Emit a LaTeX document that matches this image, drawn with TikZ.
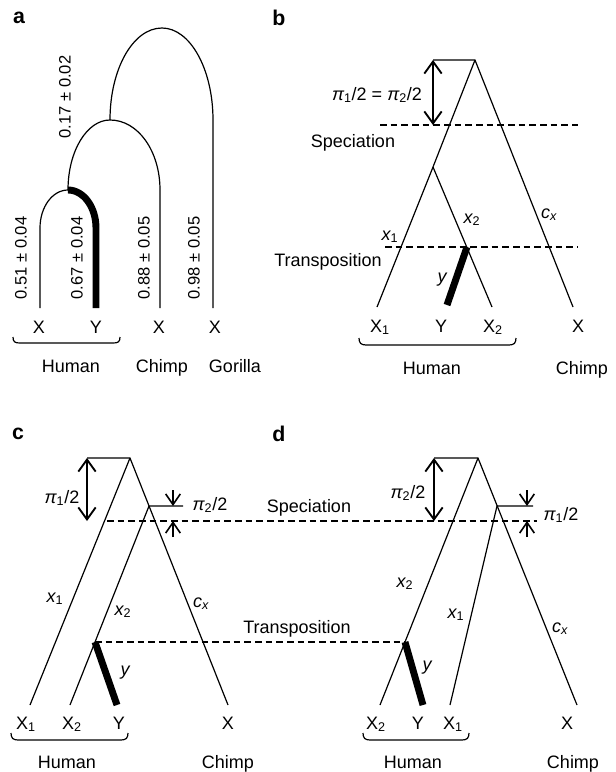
\documentclass[tikz,border=0pt]{standalone}
\usepackage{fontspec}
\setmainfont{Liberation Sans}
\usetikzlibrary{arrows.meta}
\begin{document}
\begin{tikzpicture}[x=0.75pt,y=-0.75pt,
  tree/.style={line width=0.9pt},
  thickbranch/.style={line width=5.2pt},
  dline/.style={line width=0.9pt, dash pattern=on 5pt off 3pt},
  lab/.style={font=\fontsize{13.5}{15}\selectfont, inner sep=0pt, anchor=base},
  num/.style={font=\fontsize{12.4}{14}\selectfont, inner sep=0pt, rotate=90},
  panel/.style={font=\fontsize{16}{18}\selectfont\bfseries, inner sep=0pt},
  dbl/.style={line width=1.4pt, {Straight Barb[length=9pt,width=13pt]}-{Straight Barb[length=9pt,width=13pt]}},
  sarr/.style={line width=1.2pt, -{Straight Barb[length=8pt,width=11pt]}},
  brace/.style={line width=0.9pt}
]
\useasboundingbox (0,0) rectangle (616,772);

% ---------------- panel a ----------------
\node[panel] (la) at (19,18) {a};
\coordinate (aR) at (162,28);
\coordinate (aHC) at (110,120);
\coordinate (aH) at (68,190);
\coordinate (aGe) at (213,120);
\coordinate (aG) at (213,308);
\coordinate (aCe) at (160,190);
\coordinate (aC) at (160,308);
\coordinate (aXe) at (40,228);
\coordinate (aX) at (40,308);
\coordinate (aYe) at (96,228);
\coordinate (aY) at (96,308);
\draw[tree] (aHC) .. controls (110,69) and (133,28) .. (aR) .. controls (190,28) and (213,69) .. (aGe) -- (aG);
\draw[tree] (aH) .. controls (68,151) and (87,120) .. (aHC) .. controls (138,120) and (160,151) .. (aCe) -- (aC);
\draw[tree] (aX) -- (aXe) .. controls (40,207) and (52.5,190) .. (aH);
\draw[thickbranch] (aH) .. controls (83.5,190) and (96,207) .. (aYe) -- (aY);
\node[num] (n17) at (65,97) {0.17 ± 0.02};
\node[num] (n51) at (21,258) {0.51 ± 0.04};
\node[num] (n67) at (77,258) {0.67 ± 0.04};
\node[num] (n88) at (144,258) {0.88 ± 0.05};
\node[num] (n98) at (194,258) {0.98 ± 0.05};
\node[lab] (aLX) at (39,333) {X};
\node[lab] (aLY) at (96,333) {Y};
\node[lab] (aLC) at (159,333) {X};
\node[lab] (aLG) at (215,333) {X};
\coordinate (abL) at (13,337);
\coordinate (abR) at (120,337);
\draw[brace] (abL) .. controls (13,342) and (15,343) .. (20,343) -- (113,343) .. controls (118,343) and (120,342) .. (abR);
\node[lab] (aHu) at (71,372) {Human};
\node[lab] (aCh) at (162,372) {Chimp};
\node[lab] (aGo) at (235,372) {Gorilla};

% ---------------- panel b ----------------
\node[panel] (lb) at (279,18) {b};
\coordinate (bR) at (475,60);
\coordinate (bRL) at (433,60);
\coordinate (bH) at (433,167);
\coordinate (bX1) at (377,307);
\coordinate (bX2) at (492,307);
\coordinate (bC) at (573,307);
\coordinate (bT) at (467,247);
\coordinate (bY) at (447,305);
\coordinate (bSa) at (433,125);
\draw[tree] (bRL) -- (bR) -- (bC);
\draw[tree] (bR) -- (bH) -- (bX1);
\draw[tree] (bH) -- (bX2);
\draw[thickbranch] (bT) -- (bY);
\coordinate (bS1) at (380,125); \coordinate (bS2) at (578,125);
\coordinate (bT1) at (385,247); \coordinate (bT2) at (578,247);
\draw[dline] (bS1) -- (bS2);
\draw[dline] (bT1) -- (bT2);
\draw[dbl] (bRL) -- (bSa);
\node[lab] (bpi) at (377,100) {{\itshape π}\textsubscript{1}/2 = {\itshape π}\textsubscript{2}/2};
\node[lab] (bsp) at (353,147) {Speciation};
\node[lab] (btr) at (328,266) {Transposition};
\node[lab] (bx1) at (390,240) {{\itshape x}\textsubscript{1}};
\node[lab] (bx2) at (472,223) {{\itshape x}\textsubscript{2}};
\node[lab] (bcx) at (549,218) {{\itshape c\textsubscript{x}}};
\node[lab] (by) at (442,282) {{\itshape y}};
\node[lab] (bLX1) at (380,332) {X\textsubscript{1}};
\node[lab] (bLY) at (441,332) {Y};
\node[lab] (bLX2) at (493,332) {X\textsubscript{2}};
\node[lab] (bLX) at (578,332) {X};
\coordinate (bbL) at (359,338);
\coordinate (bbR) at (516,338);
\draw[brace] (bbL) .. controls (359,343) and (361,345) .. (366,345) -- (509,345) .. controls (514,345) and (516,343) .. (bbR);
\node[lab] (bHu) at (432,374) {Human};
\node[lab] (bCh) at (582,374) {Chimp};

% ---------------- panel c ----------------
\node[panel] (lc) at (18,434) {c};
\coordinate (cR) at (130,458);
\coordinate (cRL) at (87,458);
\coordinate (cX1) at (30,705);
\coordinate (cC) at (228,705);
\coordinate (cB) at (149,506);
\coordinate (cBr) at (183,506);
\coordinate (cX2) at (70,705);
\coordinate (cT) at (95,642);
\coordinate (cY) at (117,705);
\coordinate (cSa) at (87,521);
\draw[tree] (cRL) -- (cR) -- (cC);
\draw[tree] (cR) -- (cX1);
\draw[tree] (cBr) -- (cB) -- (cX2);
\draw[thickbranch] (cT) -- (cY);
\draw[dbl] (cRL) -- (cSa);
\coordinate (cu1) at (173,490); \coordinate (cu2) at (173,506);
\coordinate (cd1) at (173,537); \coordinate (cd2) at (173,521);
\draw[sarr] (cu1) -- (cu2);
\draw[sarr] (cd1) -- (cd2);
\node[lab] (cpi1) at (62,503) {{\itshape π}\textsubscript{1}/2};
\node[lab] (cpi2) at (210,510) {{\itshape π}\textsubscript{2}/2};
\node[lab] (cx1) at (55,602) {{\itshape x}\textsubscript{1}};
\node[lab] (cx2) at (123,615) {{\itshape x}\textsubscript{2}};
\node[lab] (ccx) at (201,607) {{\itshape c\textsubscript{x}}};
\node[lab] (cy) at (125,675) {{\itshape y}};
\node[lab] (cLX1) at (26,729) {X\textsubscript{1}};
\node[lab] (cLX2) at (72,729) {X\textsubscript{2}};
\node[lab] (cLY) at (119,729) {Y};
\node[lab] (cLX) at (228,729) {X};
\coordinate (cbL) at (11,733);
\coordinate (cbR) at (128,733);
\draw[brace] (cbL) .. controls (11,738) and (13,740) .. (18,740) -- (121,740) .. controls (126,740) and (128,738) .. (cbR);
\node[lab] (cHu) at (67,768) {Human};
\node[lab] (cCh) at (228,768) {Chimp};

% ---------------- shared lines ----------------
\coordinate (sS1) at (107,521); \coordinate (sS2) at (537,521);
\coordinate (sT1) at (95,642); \coordinate (sT2) at (405,642);
\draw[dline] (sS1) -- (sS2);
\draw[dline] (sT1) -- (sT2);
\node[lab] (ssp) at (309,512) {Speciation};
\node[lab] (str) at (297,633) {Transposition};

% ---------------- panel d ----------------
\node[panel] (ld) at (279,434) {d};
\coordinate (dR) at (478,458);
\coordinate (dRL) at (434,458);
\coordinate (dX2) at (380,705);
\coordinate (dC) at (577,705);
\coordinate (dB) at (497,506);
\coordinate (dBr) at (533,506);
\coordinate (dX1) at (450,705);
\coordinate (dT) at (405,642);
\coordinate (dY) at (423,705);
\coordinate (dSa) at (434,521);
\draw[tree] (dRL) -- (dR) -- (dC);
\draw[tree] (dR) -- (dX2);
\draw[tree] (dBr) -- (dB) -- (dX1);
\draw[thickbranch] (dT) -- (dY);
\draw[dbl] (dRL) -- (dSa);
\coordinate (du1) at (527,490); \coordinate (du2) at (527,506);
\coordinate (dd1) at (527,537); \coordinate (dd2) at (527,521);
\draw[sarr] (du1) -- (du2);
\draw[sarr] (dd1) -- (dd2);
\node[lab] (dpi2) at (408,498) {{\itshape π}\textsubscript{2}/2};
\node[lab] (dpi1) at (561,520) {{\itshape π}\textsubscript{1}/2};
\node[lab] (dx2) at (405,587) {{\itshape x}\textsubscript{2}};
\node[lab] (dx1) at (456,618) {{\itshape x}\textsubscript{1}};
\node[lab] (dcx) at (560,632) {{\itshape c\textsubscript{x}}};
\node[lab] (dy) at (427,670) {{\itshape y}};
\node[lab] (dLX2) at (376,729) {X\textsubscript{2}};
\node[lab] (dLY) at (418,729) {Y};
\node[lab] (dLX1) at (453,729) {X\textsubscript{1}};
\node[lab] (dLX) at (567,729) {X};
\coordinate (dbL) at (363,733);
\coordinate (dbR) at (469,733);
\draw[brace] (dbL) .. controls (363,738) and (365,740) .. (370,740) -- (462,740) .. controls (467,740) and (469,738) .. (dbR);
\node[lab] (dHu) at (413,768) {Human};
\node[lab] (dCh) at (573,768) {Chimp};
\end{tikzpicture}
\end{document}
